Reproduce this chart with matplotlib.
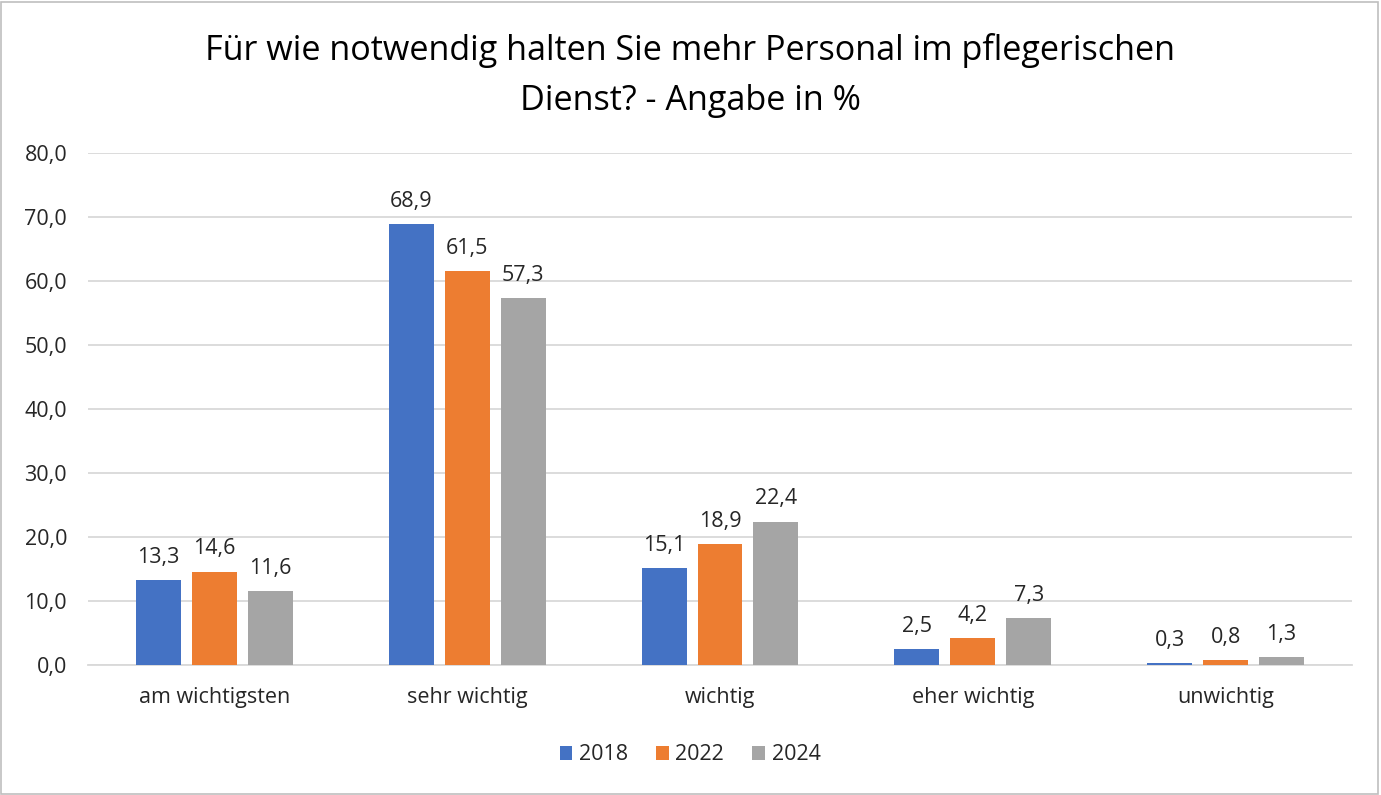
import matplotlib
matplotlib.use("Agg")
import matplotlib.pyplot as plt
import numpy as np
from matplotlib.patches import Rectangle

categories = ["am wichtigsten", "sehr wichtig", "wichtig", "eher wichtig", "unwichtig"]
series_names = ["2018", "2022", "2024"]
v2018 = [13.3, 68.9, 15.1, 2.5, 0.3]
v2022 = [14.6, 61.5, 18.9, 4.2, 0.8]
v2024 = [11.6, 57.3, 22.4, 7.3, 1.3]
yticks = [0, 10, 20, 30, 40, 50, 60, 70, 80]
colors = ["#4472C4", "#ED7D31", "#A5A5A5"]

plt.rcParams['font.family'] = ['Open Sans', 'DejaVu Sans']
txt = "#262626"
fs = 15.5

fig = plt.figure(figsize=(13.81, 7.95), dpi=100)
ax = fig.add_axes([88/1381, 1-665/795, 1264/1381, 512/795])

x = np.arange(len(categories))
w = 0.178
step = 0.2215
for i, (vals, c, name) in enumerate(zip([v2018, v2022, v2024], colors, series_names)):
    pos = x + (i-1)*step
    ax.bar(pos, vals, width=w, color=c, label=name, zorder=3)
    for p, v in zip(pos, vals):
        ax.text(p, v + 1.9, f"{v:.1f}".replace(".", ","), ha="center", va="bottom",
                fontsize=fs, color=txt)

ax.set_xlim(-0.5, len(categories)-0.5)
ax.set_ylim(0, 80)
ax.set_yticks(yticks)
ax.set_yticklabels([f"{t:.1f}".replace(".", ",") for t in yticks], fontsize=fs, color=txt)
ax.set_xticks(x)
ax.set_xticklabels(categories, fontsize=fs, color=txt)
ax.tick_params(axis='both', length=0)
ax.tick_params(axis='x', pad=16)
ax.tick_params(axis='y', pad=15)
ax.grid(axis='y', color="#D9D9D9", linewidth=1.3, zorder=0)
for s in ["top", "right", "left"]:
    ax.spines[s].set_visible(False)
ax.spines["bottom"].set_color("#D9D9D9")
ax.spines["bottom"].set_linewidth(1.3)

fig.text(690/1381, 1-50/795, "Für wie notwendig halten Sie mehr Personal im pflegerischen",
         ha="center", va="center", fontsize=24.6, color="#000000")
fig.text(690/1381, 1-101/795, "Dienst? - Angabe in %",
         ha="center", va="center", fontsize=24.6, color="#000000")

leg = fig.legend(loc="center", bbox_to_anchor=(690/1381, 1-755/795), ncol=3, frameon=False,
                 fontsize=fs, handlelength=0.6, handleheight=0.6, columnspacing=1.3,
                 handletextpad=0.3)
for t in leg.get_texts():
    t.set_color(txt)

fig.patches.append(Rectangle((0.001, 0.001), 0.997, 0.997, transform=fig.transFigure,
                             fill=False, edgecolor="#BFBFBF", linewidth=1.2))

fig.savefig("out.png", dpi=100)
